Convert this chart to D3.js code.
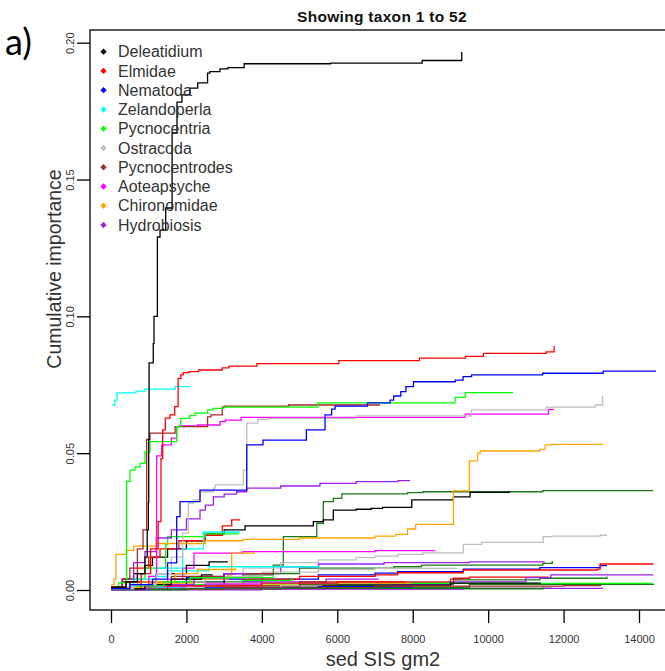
<!DOCTYPE html>
<html>
<head>
<meta charset="utf-8">
<script src="https://cdn.jsdelivr.net/npm/d3@7"></script>
<style>
  body { margin: 0; background: #fff; }
  svg { display: block; }
</style>
</head>
<body>
<svg id="chart" width="665" height="671"></svg>
<script>
// ---- axis ticks ----
const xTicks = [0, 2000, 4000, 6000, 8000, 10000, 12000, 14000];
const yTicks = [0, 0.05, 0.10, 0.15, 0.20];

// ---- legend (top ten taxa) ----
const legendTaxa = ["Deleatidium", "Elmidae", "Nematoda", "Zelandoperla", "Pycnocentria",
  "Ostracoda", "Pycnocentrodes", "Aoteapsyche", "Chironomidae", "Hydrobiosis"];
const legendColors = ["#000000", "#FF0000", "#0000FF", "#00FFFF", "#00FF00",
  "#BEBEBE", "#A52A2A", "#FF00FF", "#FFA500", "#A020F0"];

// ---- cumulative importance steps: [sed_SIS_gm2, cumulative importance] ----
const deleatidium = [[0,0.001],[400,0.003],[700,0.006],[900,0.012],[960,0.022],[990,0.032],[1000,0.055],
  [1010,0.083],[1120,0.09],[1140,0.10],[1230,0.129],[1300,0.1315],[1450,0.1396],[1620,0.167],
  [1750,0.1783],[1880,0.1809],[2090,0.1834],[2300,0.1853],[2560,0.1889],[2620,0.1894],[2890,0.1904],
  [3100,0.1909],[3530,0.1923],[5820,0.1925],[8250,0.1935],[9300,0.1966]];
const elmidae = [[0,0.001],[400,0.003],[800,0.006],[1050,0.015],[1250,0.025],[1325,0.048],[1370,0.0585],
  [1440,0.0628],[1565,0.064],[1690,0.067],[1780,0.0773],[1850,0.0786],[1915,0.0794],[2070,0.0798],
  [2325,0.0804],[2945,0.0812],[3130,0.0818],[3870,0.0827],[6040,0.0838],[8180,0.0847],[9400,0.0854],
  [9875,0.0865],[11540,0.087],[11750,0.0892]];
const nematoda = [[0,0.0005],[500,0.002],[1100,0.004],[1500,0.0099],[1742,0.0268],[1830,0.0323],
  [2360,0.0365],[3600,0.053],[4030,0.0548],[5180,0.0585],[5675,0.064],[5850,0.0661],[5940,0.0672],
  [6800,0.0684],[7400,0.0694],[7495,0.0709],[7685,0.0725],[7820,0.0743],[8020,0.0761],[9130,0.0767],
  [9335,0.078],[9560,0.0786],[11445,0.0792],[13050,0.08],[14450,0.08]];
const zelandoperla = [[30,0.0676],[100,0.0694],[160,0.072],[660,0.0727],[900,0.0734],[1700,0.0743],[2100,0.0743]];
const pycnocentria = [[0,0.001],[200,0.0026],[415,0.0397],[504,0.0438],[636,0.045],[769,0.0463],
  [902,0.0505],[1034,0.0542],[1742,0.0597],[1850,0.0627],[2085,0.0637],[2225,0.0646],[2565,0.0658],
  [2705,0.0664],[2990,0.0668],[5490,0.0684],[9120,0.0704],[9390,0.0721],[10660,0.0721]];
const ostracoda = [[0,0.0005],[600,0.002],[1200,0.006],[1600,0.012],[1900,0.0208],[2050,0.0318],
  [2185,0.0329],[2360,0.0359],[2715,0.0372],[2760,0.0384],[3510,0.0438],[3600,0.061],[3890,0.0624],
  [4170,0.0627],[6500,0.0636],[9560,0.0658],[11540,0.0668],[12840,0.0676],[13035,0.0709]];
const pycnocentrodes = [[0,0.001],[300,0.004],[500,0.008],[700,0.015],[850,0.022],[945,0.055],
  [1034,0.0573],[1700,0.0597],[2560,0.0633],[2650,0.064],[2950,0.0668],[3000,0.0672],[4710,0.0676],[7135,0.0676]];
const aoteapsyche = [[0,0.0005],[500,0.002],[1000,0.005],[1210,0.049],[1345,0.053],[1600,0.0555],
  [1742,0.0597],[1800,0.06],[2300,0.0603],[2890,0.0615],[3030,0.0621],[3450,0.0631],[9390,0.0643],
  [11600,0.066],[11750,0.066]];
const chironomidae = [[0,0.002],[80,0.004],[130,0.013],[400,0.0145],[600,0.016],[1200,0.017],
  [2500,0.018],[3500,0.0185],[5000,0.019],[7000,0.0197],[7550,0.0203],[7860,0.0223],[8080,0.024],
  [9080,0.0362],[9500,0.0472],[9720,0.05],[9790,0.0508],[11370,0.0514],[11510,0.053],[11690,0.0532],[13050,0.0532]];
const hydrobiosis = [[0,0.001],[300,0.004],[600,0.01],[900,0.014],[1200,0.019],[1600,0.022],[2000,0.026],
  [2360,0.0292],[2500,0.031],[2715,0.034],[3000,0.035],[3330,0.0359],[3600,0.0372],[4500,0.038],
  [5540,0.039],[6500,0.0396],[7610,0.04],[7930,0.04]];

// remaining taxa (11 to 52), colour and steps
const otherTaxa = [
  ["#1a7a1a", [[0,0.0005],[500,0.002],[1500,0.003],[2500,0.0045],[3500,0.0055],[4305,0.0091],[4570,0.0195],[5455,0.0244],[5630,0.0323],[5895,0.0335],[6120,0.0351],[7865,0.0356],[8270,0.0359],[11450,0.0363],[14380,0.0363]]],
  ["#000000", [[0,0.001],[300,0.003],[600,0.006],[900,0.009],[1100,0.012],[1500,0.015],[2000,0.018],[2500,0.0205],[3000,0.022],[3555,0.0234],[5365,0.025],[5630,0.0256],[5895,0.0292],[6500,0.0295],[6900,0.0298],[7200,0.0302],[7975,0.0329],[9080,0.034],[9520,0.0357],[10580,0.0357]]],
  ["#BEBEBE", [[0,0.0005],[1000,0.002],[2000,0.004],[3000,0.006],[3500,0.008],[4500,0.01],[5500,0.011],[6500,0.0118],[7000,0.0124],[7610,0.013],[8270,0.0136],[9340,0.0167],[9830,0.0174],[11460,0.0195],[11690,0.0197],[12970,0.02],[13150,0.02]]],
  ["#FF00FF", [[0,0.0005],[800,0.002],[1500,0.004],[1900,0.008],[2200,0.0135],[3500,0.014],[7000,0.0144],[8590,0.0144]]],
  ["#A020F0", [[0,0.0005],[1500,0.003],[3000,0.006],[4500,0.0085],[5500,0.0095],[7240,0.01],[9500,0.0103],[11500,0.0103]]],
  ["#1a7a1a", [[0,0.0005],[2000,0.003],[4000,0.006],[5000,0.008],[7500,0.0085],[8230,0.0091],[11450,0.0097],[11700,0.0106]]],
  ["#1a7a1a", [[0,0.0003],[3000,0.001],[6000,0.002],[9080,0.0037],[11370,0.0043],[13150,0.0049]]],
  ["#1a7a1a", [[0,0.0002],[4000,0.0004],[11450,0.0007],[11700,0.0007]]],
  ["#0000FF", [[0,0.0005],[1500,0.002],[3000,0.004],[5500,0.0055],[7000,0.0062],[7600,0.0067],[9340,0.0076],[11370,0.0082],[12970,0.0089],[13150,0.0089]]],
  ["#FF0000", [[0,0.0005],[1500,0.002],[3500,0.004],[5000,0.005],[7000,0.0055],[7600,0.0063],[9340,0.0073],[12900,0.0076],[12970,0.0095],[14380,0.0095]]],
  ["#FF0000", [[0,0.0003],[2500,0.0015],[5000,0.0025],[9080,0.0043],[9500,0.0047],[11600,0.0047]]],
  ["#A020F0", [[0,0.0002],[3000,0.001],[6000,0.002],[9000,0.003],[11000,0.0045],[11660,0.0055],[14380,0.0055]]],
  ["#1a7a1a", [[0,0.0002],[4000,0.001],[9500,0.0021],[14380,0.0022]]],
  ["#00FF00", [[0,0.0003],[1000,0.001],[3000,0.0018],[7400,0.0024],[14350,0.0024]]],
  ["#00FFFF", [[0,0.0005],[500,0.0015],[2000,0.002],[4000,0.0025],[7000,0.003],[7530,0.003]]],
  ["#A020F0", [[0,0.0001],[4000,0.0003],[9340,0.0006],[13050,0.0006]]],
  ["#00FFFF", [[0,0.001],[500,0.003],[1000,0.005],[1500,0.007],[2600,0.0085],[5540,0.0085]]],
  ["#BEBEBE", [[0,0.0005],[1000,0.003],[2500,0.005],[4000,0.0065],[5500,0.0075],[7000,0.0079],[9175,0.0079]]],
  ["#FFA500", [[0,0.0008],[1000,0.0025],[2200,0.004],[3100,0.0055],[3200,0.0135],[3800,0.0138]]],
  ["#FF0000", [[0,0.001],[300,0.004],[700,0.008],[1000,0.012],[1300,0.015],[1800,0.018],[2500,0.02],[2950,0.0234],[3200,0.0256],[3420,0.0256]]],
  ["#00FF00", [[0,0.001],[400,0.004],[900,0.008],[1450,0.0165],[1500,0.0195],[2500,0.0205],[3400,0.0205]]],
  ["#00FFFF", [[0,0.0005],[600,0.004],[1200,0.008],[1900,0.015],[2450,0.0212],[3400,0.0215]]],
  ["#000000", [[0,0.0005],[500,0.003],[1200,0.006],[2000,0.009],[2600,0.0103],[3100,0.0103]]],
  ["#FF00FF", [[0,0.0001],[1000,0.0003],[4300,0.0005],[8000,0.0005]]],
  ["#A52A2A", [[0,0.0005],[800,0.003],[1600,0.005],[3000,0.006],[4300,0.0065]]],
  ["#FFA500", [[0,0.0003],[1200,0.001],[3000,0.0018],[6000,0.0025],[8000,0.0025]]],
  ["#0000FF", [[0,0.0003],[900,0.002],[2000,0.0045],[3000,0.006],[3300,0.0062]]],
  ["#A020F0", [[0,0.0002],[1500,0.0015],[3500,0.003],[5700,0.004],[7100,0.004]]],
  ["#A52A2A", [[0,0.0003],[2000,0.0015],[5000,0.003],[9000,0.004],[9300,0.0045]]],
  ["#00FF00", [[0,0.0004],[1800,0.002],[3500,0.0035],[4800,0.0045]]],
  ["#000000", [[0,0.0002],[2000,0.001],[5000,0.0018],[9000,0.0025],[11400,0.0025]]],
  ["#00FFFF", [[0,0.0002],[1200,0.001],[2500,0.0018],[2800,0.0018]]],
  ["#FF00FF", [[0,0.0002],[900,0.0012],[2500,0.0022],[4000,0.0028]]],
  ["#BEBEBE", [[0,0.0002],[2000,0.001],[4500,0.0015],[5600,0.0015]]],
  ["#FF0000", [[0,0.0002],[1500,0.0015],[4000,0.0025],[6000,0.003],[7800,0.003]]],
  ["#FFA500", [[0,0.0006],[700,0.003],[1700,0.006],[2300,0.0075],[3300,0.008]]],
  ["#0000FF", [[0,0.0002],[2500,0.0008],[5500,0.0012],[8000,0.0012]]],
  ["#A52A2A", [[0,0.0002],[3000,0.0008],[7000,0.0014],[12000,0.0016],[13000,0.0016]]],
  ["#1a7a1a", [[0,0.0001],[2000,0.0004],[4500,0.0006],[11500,0.0006]]],
  ["#A020F0", [[0,0.0003],[1000,0.002],[2200,0.0045],[3000,0.006],[3600,0.006]]],
  ["#000000", [[0,0.0004],[900,0.002],[1600,0.004],[2400,0.0055],[2700,0.0055]]],
  ["#00FF00", [[0,0.0004],[600,0.0015],[1400,0.003],[2100,0.0045],[4300,0.005]]]
];

const legendSeries = [deleatidium, elmidae, nematoda, zelandoperla, pycnocentria,
  ostracoda, pycnocentrodes, aoteapsyche, chironomidae, hydrobiosis];

// ---- layout ----
const svg = d3.select("#chart");
const box = { left: 90, top: 30, right: 674, bottom: 610 };

const x = d3.scaleLinear().domain([0, 14000]).range([111, 639]);
const y = d3.scaleLinear().domain([0, 0.2]).range([590, 42.7]);

svg.append("rect").attr("width", 665).attr("height", 671).attr("fill", "#fff");

svg.append("defs").append("clipPath").attr("id", "plotClip")
  .append("rect").attr("x", box.left).attr("y", box.top)
  .attr("width", box.right - box.left).attr("height", box.bottom - box.top);

const line = d3.line()
  .x(d => x(d[0])).y(d => y(d[1]))
  .curve(d3.curveStepAfter);

const plot = svg.append("g").attr("clip-path", "url(#plotClip)");

// lesser taxa underneath
plot.selectAll("path.minor")
  .data(otherTaxa)
  .join("path")
  .attr("class", "minor")
  .attr("d", d => line(d[1]))
  .attr("fill", "none")
  .attr("stroke", d => d[0])
  .attr("stroke-width", 1.3);

// top ten taxa, Deleatidium drawn last
const major = legendSeries.map((s, i) => ({ pts: s, color: legendColors[i] })).reverse();
plot.selectAll("path.major")
  .data(major)
  .join("path")
  .attr("class", "major")
  .attr("d", d => line(d.pts))
  .attr("fill", "none")
  .attr("stroke", d => d.color)
  .attr("stroke-width", 1.3);

// frame
svg.append("rect")
  .attr("x", box.left).attr("y", box.top)
  .attr("width", box.right - box.left).attr("height", box.bottom - box.top)
  .attr("fill", "none").attr("stroke", "#000").attr("stroke-width", 1.3);

// x axis
const xAxis = svg.append("g")
  .attr("transform", `translate(0,${box.bottom})`)
  .call(d3.axisBottom(x).tickValues(xTicks).tickSize(13).tickPadding(12).tickFormat(d3.format("d")));
xAxis.select(".domain").remove();
xAxis.selectAll("line").attr("stroke", "#000").attr("stroke-width", 1.3);
xAxis.selectAll("text").attr("fill", "#333").style("font-family", "'Liberation Sans', Arial, sans-serif").style("font-size", "11px");

// y axis with upright (rotated) labels
const yAxis = svg.append("g")
  .attr("transform", `translate(${box.left},0)`)
  .call(d3.axisLeft(y).tickValues(yTicks).tickSize(13).tickFormat(d3.format(".2f")));
yAxis.select(".domain").remove();
yAxis.selectAll("line").attr("stroke", "#000").attr("stroke-width", 1.3);
yAxis.selectAll("text")
  .attr("x", null).attr("dy", null)
  .attr("transform", "translate(-16,0) rotate(-90)")
  .attr("text-anchor", "middle")
  .attr("fill", "#333")
  .style("font-family", "'Liberation Sans', Arial, sans-serif")
  .style("font-size", "11px");

// titles
svg.append("text")
  .attr("x", 382).attr("y", 22)
  .attr("text-anchor", "middle")
  .style("font-family", "'Liberation Sans', Arial, sans-serif")
  .style("font-size", "15.5px").style("font-weight", "bold")
  .style("letter-spacing", "0.3px")
  .attr("fill", "#111")
  .text("Showing taxon 1 to 52");

svg.append("text")
  .attr("x", 383).attr("y", 666)
  .attr("text-anchor", "middle")
  .style("font-family", "'Liberation Sans', Arial, sans-serif")
  .style("font-size", "20px")
  .attr("fill", "#333")
  .text("sed SIS gm2");

svg.append("text")
  .attr("transform", "translate(61,269) rotate(-90)")
  .attr("text-anchor", "middle")
  .style("font-family", "'Liberation Sans', Arial, sans-serif")
  .style("font-size", "19.5px")
  .attr("fill", "#333")
  .text("Cumulative importance");

svg.append("text")
  .attr("x", 5).attr("y", 55)
  .style("font-family", "Lato, 'Open Sans', sans-serif")
  .style("font-size", "36px")
  .attr("fill", "#000")
  .text("a)");

// legend
const legend = svg.append("g");
const rowY = d3.scaleLinear().domain([0, 9]).range([51.7, 225]);
const legendRows = legend.selectAll("g")
  .data(legendTaxa)
  .join("g")
  .attr("transform", (d, i) => `translate(0,${rowY(i)})`);
legendRows.append("path")
  .attr("d", d3.symbol(d3.symbolSquare, 20)())
  .attr("transform", "translate(103.5,0) rotate(45)")
  .attr("fill", (d, i) => legendColors[i]);
legendRows.append("text")
  .attr("x", 118).attr("y", 5.6)
  .style("font-family", "'Liberation Sans', Arial, sans-serif")
  .style("font-size", "16px")
  .attr("fill", "#333")
  .text(d => d);
</script>
</body>
</html>
